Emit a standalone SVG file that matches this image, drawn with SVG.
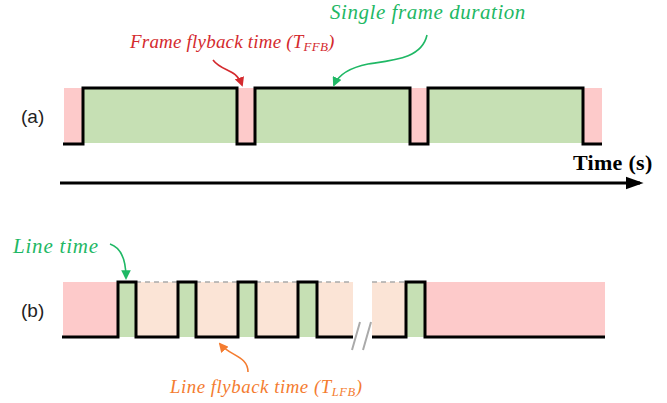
<svg xmlns="http://www.w3.org/2000/svg" width="667" height="403" viewBox="0 0 667 403">
<defs>
<style>
.pink{fill:#fdcaca}
.green{fill:#c6e0b4}
.peach{fill:#fbe4d6}
.sig{fill:none;stroke:#000;stroke-width:3;stroke-linejoin:miter}
.lbl{font-family:"Liberation Sans",Arial,sans-serif;font-size:19px;fill:#222}
.it{font-family:"Liberation Serif","Times New Roman",serif;font-style:italic}
.dash{stroke:#aaa;stroke-width:1.5;stroke-dasharray:5,4;fill:none}
</style>
<marker id="ahG" viewBox="0 0 10 10" refX="8" refY="5" markerWidth="6" markerHeight="6" orient="auto"><path d="M0,0 L10,5 L0,10 z" fill="#1fb865"/></marker>
<marker id="ahR" viewBox="0 0 10 10" refX="8" refY="5" markerWidth="6" markerHeight="6" orient="auto"><path d="M0,0 L10,5 L0,10 z" fill="#d42a2e"/></marker>
<marker id="ahO" viewBox="0 0 10 10" refX="8" refY="5" markerWidth="6" markerHeight="6" orient="auto"><path d="M0,0 L10,5 L0,10 z" fill="#f47c30"/></marker>
<marker id="ahK" viewBox="0 0 10 10" refX="8" refY="5" markerWidth="6" markerHeight="6" orient="auto"><path d="M0,1.5 L10,5 L0,8.5 z" fill="#000"/></marker>
</defs>
<rect width="667" height="403" fill="#fff"/>

<g id="panel-a">
<rect class="pink" x="64" y="88" width="538" height="55"/>
<rect class="green" x="84" y="88" width="153" height="55"/>
<rect class="green" x="256" y="88" width="154" height="55"/>
<rect class="green" x="429" y="88" width="154" height="55"/>
<path class="sig" d="M63,144 H83 V88 H237 V144 H255 V88 H410 V144 H428 V88 H583 V144 H602"/>
<text class="lbl" x="21" y="123">(a)</text>
</g>

<g id="label-single-frame">
<text class="it" x="330" y="19" font-size="21" letter-spacing="0.55" fill="#1fb865">Single frame duration</text>
</g>
<g id="label-frame-flyback">
<text class="it" x="130" y="48" font-size="19" letter-spacing="0.2" fill="#d42a2e">Frame flyback time (<tspan>T</tspan><tspan font-size="13" dy="3">FFB</tspan><tspan dy="-3">)</tspan></text>
</g>

<g id="time-axis">
<text x="573" y="170" font-family="Liberation Serif,'Times New Roman',serif" font-weight="bold" font-size="22" letter-spacing="0.3" fill="#000">Time (s)</text>
</g>

<g id="panel-b">
<rect class="pink" x="63" y="282" width="55" height="55"/>
<rect class="peach" x="136" y="282" width="217" height="55"/>
<rect class="peach" x="372" y="282" width="34" height="55"/>
<rect class="green" x="118" y="282" width="18" height="55"/>
<rect class="green" x="178" y="282" width="18" height="55"/>
<rect class="green" x="238" y="282" width="18" height="55"/>
<rect class="green" x="298" y="282" width="19" height="55"/>
<rect class="green" x="406" y="282" width="19" height="55"/>
<rect class="pink" x="425" y="282" width="180" height="55"/>
<path class="dash" d="M136,282 H178 M196,282 H238 M256,282 H298 M317,282 H353 M372,282 H406"/>
<path class="sig" d="M62,337 H118 V282 H136 V337 H178 V282 H196 V337 H238 V282 H256 V337 H298 V282 H317 V337 H353"/>
<path class="sig" d="M372,337 H406 V282 H425 V337 H605"/>
<path d="M352,350 L360,322 M363,350 L371,322" stroke="#aaa" stroke-width="2" fill="none"/>
<text class="lbl" x="21" y="317">(b)</text>
</g>

<g id="label-line-time">
<text class="it" x="13" y="253" font-size="21" letter-spacing="0.8" fill="#1fb865">Line time</text>
</g>
<g id="label-line-flyback">
<text class="it" x="170" y="393" font-size="18.8" letter-spacing="0.55" fill="#f47c30">Line flyback time (<tspan>T</tspan><tspan font-size="12.5" dy="3">LFB</tspan><tspan dy="-3">)</tspan></text>
</g>

<g id="connectors">
<path d="M60,183 H640" stroke="#000" stroke-width="3" fill="none" marker-end="url(#ahK)"/>
<path d="M427,35 C 422,58 395,60 368,64 C 348,68 338,76 334,85" stroke="#1fb865" stroke-width="1.6" fill="none" marker-end="url(#ahG)"/>
<path d="M213,60 C 222,72 236,68 242,85" stroke="#d42a2e" stroke-width="1.6" fill="none" marker-end="url(#ahR)"/>
<path d="M110,244 C 122,248 126,262 126,278" stroke="#1fb865" stroke-width="1.6" fill="none" marker-end="url(#ahG)"/>
<path d="M248,372 C 248,356 230,356 220,344" stroke="#f47c30" stroke-width="1.6" fill="none" marker-end="url(#ahO)"/>
</g>
</svg>
